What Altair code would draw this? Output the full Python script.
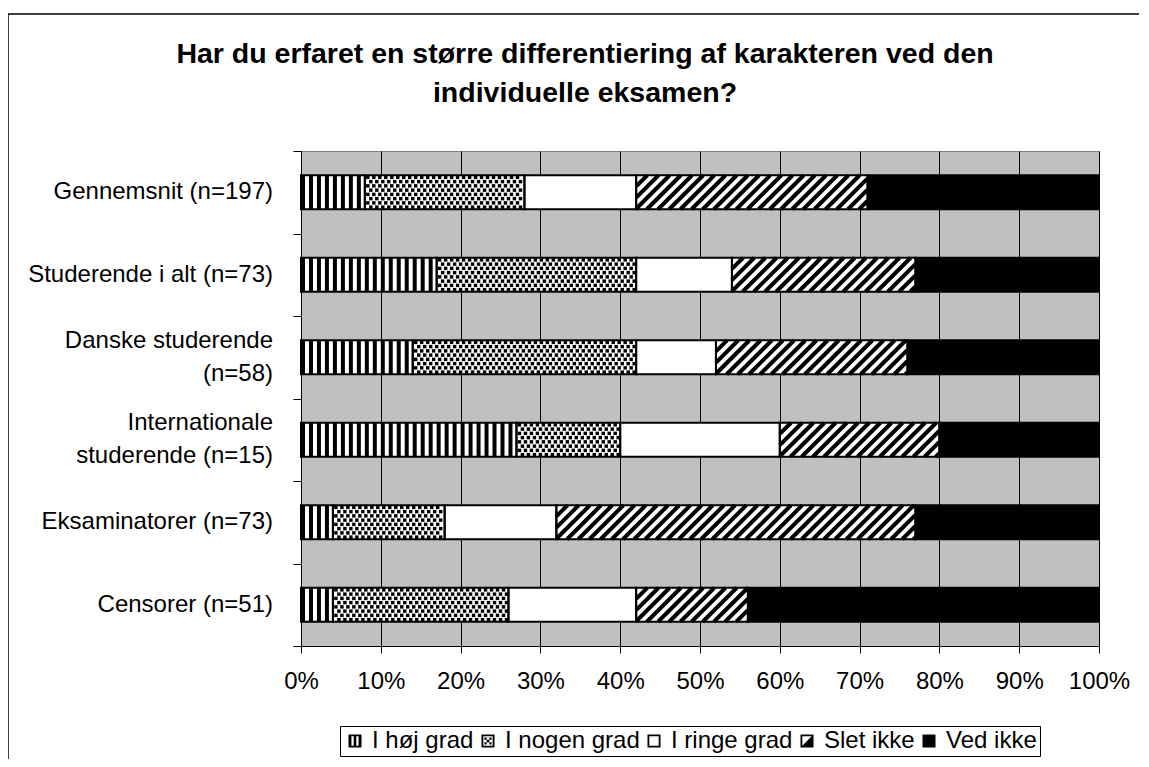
import altair as alt
import pandas as pd

# ---------------- data ----------------
categories = [
    "Gennemsnit (n=197)",
    "Studerende i alt (n=73)",
    "Danske studerende\n(n=58)",
    "Internationale\nstuderende (n=15)",
    "Eksaminatorer (n=73)",
    "Censorer (n=51)",
]
series = ["I høj grad", "I nogen grad", "I ringe grad", "Slet ikke", "Ved ikke"]
hoej_grad = [8, 17, 14, 27, 4, 4]
nogen_grad = [20, 25, 28, 13, 14, 22]
ringe_grad = [14, 12, 10, 20, 14, 16]
slet_ikke = [29, 23, 24, 20, 45, 14]
ved_ikke = [29, 23, 24, 20, 23, 44]
x_ticks = [0, 10, 20, 30, 40, 50, 60, 70, 80, 90, 100]
title_text = "Har du erfaret en større differentiering af karakteren ved den\nindividuelle eksamen?"

# ---------------- layout / style constants ----------------
W, H = 798, 495
PX_PCT = W / 100.0
PX_UNIT = H / len(categories)
BAR_HALF = 17 / PX_UNIT
FONT = "Liberation Sans"
FS = 24
LABEL_LH = 33

# ---------------- derived tables ----------------
cols = [hoej_grad, nogen_grad, ringe_grad, slet_ikke, ved_ikke]
rows = []
for i, cat in enumerate(categories):
    start = 0.0
    for s, col in zip(series, cols):
        v = col[i]
        rows.append(dict(cat=cat, series=s, start=start, end=start + v,
                         mid=start + v / 2, yc=i + 0.5,
                         y0=i + 0.5 - BAR_HALF, y1=i + 0.5 + BAR_HALF,
                         base="black" if s == "Ved ikke" else "white"))
        start += v
seg = pd.DataFrame(rows)

# vertical stripes (I høj grad)
vs = []
for r in seg[seg.series == series[0]].itertuples():
    x = r.start + 0.25
    while x + 0.25 <= r.end + 0.05:
        vs.append(dict(x=x, y0=r.y0, y1=r.y1))
        x += 1.0
vs = pd.DataFrame(vs)

# dots (I nogen grad)
dots = []
NROWS = 8
DX = 0.75
for r in seg[seg.series == series[1]].itertuples():
    for j in range(NROWS):
        y = r.y0 + (j + 0.5) * (2 * BAR_HALF / NROWS)
        x = r.start + DX * (0.5 + 0.5 * (j % 2))
        while x < r.end - 0.2:
            dots.append(dict(x=x, y=y))
            x += DX
dots = pd.DataFrame(dots)

# diagonal stripes (Slet ikke)
diag = []
HX = 2 * BAR_HALF * PX_UNIT / PX_PCT
PER = 1.4
for r in seg[seg.series == series[3]].itertuples():
    x0 = r.start - HX
    while x0 < r.end:
        smin = max(0.0, (r.start - x0) / HX)
        smax = min(1.0, (r.end - x0) / HX)
        if smax > smin:
            diag.append(dict(xa=x0 + smin * HX, xb=x0 + smax * HX,
                             ya=r.y1 - smin * 2 * BAR_HALF,
                             yb=r.y1 - smax * 2 * BAR_HALF))
        x0 += PER
diag = pd.DataFrame(diag)

labels_df = pd.DataFrame({
    "cat": categories,
    "ylab": [i + 0.5 - (c.count("\n")) * LABEL_LH / 2 / PX_UNIT for i, c in enumerate(categories)],
})
title_df = pd.DataFrame({"t": [title_text]})
one = pd.DataFrame({"a": [0]})

# legend symbols (custom paths in [-1,1])
FRAME = "M-1,-1H1V1H-1Z M-0.72,-0.72V0.72H0.72V-0.72Z"
paths = [
    "M-1,-1H1V1H-1Z M-0.55,-0.72V0.72H-0.2V-0.72Z M0.2,-0.72V0.72H0.55V-0.72Z",
    FRAME + " M-0.55,-0.55H-0.2V-0.2H-0.55Z M0.2,-0.55H0.55V-0.2H0.2Z"
            " M-0.2,-0.2H0.2V0.2H-0.2Z M-0.55,0.2H-0.2V0.55H-0.55Z M0.2,0.2H0.55V0.55H0.2Z",
    FRAME,
    FRAME + " M0.72,-0.72L0.72,0.72L-0.72,0.72Z",
    "M-1,-1H1V1H-1Z",
]

xscale = alt.Scale(domain=[0, 100], nice=False, zero=False)
yscale = alt.Scale(domain=[0, len(categories)], reverse=True, nice=False, zero=False)
xaxis = alt.Axis(values=x_ticks, labelExpr="datum.value + '%'", title=None,
                 grid=True, gridColor="black", gridWidth=1, gridOpacity=1,
                 domainColor="black", tickColor="black", tickSize=7,
                 labelOverlap=False, labelFlush=False,
                 labelFontSize=FS, labelFont=FONT, labelColor="black", labelPadding=16)
yaxis = alt.Axis(values=list(range(len(categories) + 1)), labels=False, title=None,
                 grid=False, domainColor="black", tickColor="black", tickSize=8)


def X(f):
    return alt.X(f, type="quantitative", scale=xscale, axis=xaxis)


def Y(f):
    return alt.Y(f, type="quantitative", scale=yscale, axis=yaxis)


legend_layer = alt.Chart(seg).mark_point(filled=True, opacity=1, size=1, color="black").encode(
    x=X("mid"), y=Y("yc"),
    shape=alt.Shape("series:N", scale=alt.Scale(domain=series, range=paths),
                    legend=alt.Legend(orient="none", legendX=39, legendY=575,
                                      direction="horizontal", title=None,
                                      strokeColor="black", fillColor="white", padding=3,
                                      labelFontSize=FS, labelFont=FONT, labelColor="black",
                                      symbolSize=169, symbolStrokeWidth=0, symbolOpacity=1,
                                      labelOffset=5, columnPadding=2)),
)

base = alt.Chart(seg).mark_rect(strokeWidth=0).encode(
    x=X("start"), x2="end", y=Y("y0"), y2="y1",
    fill=alt.Fill("base:N", scale=None),
)

vstripes = alt.Chart(vs).mark_rule(strokeWidth=4, color="black", strokeCap="butt").encode(
    x=X("x"), y=Y("y0"), y2="y1"
)

dotl = alt.Chart(dots).mark_square(size=12, filled=True, opacity=1, color="black").encode(
    x=X("x"), y=Y("y")
)

diagl = alt.Chart(diag).mark_rule(strokeWidth=4, color="black", strokeCap="butt").encode(
    x=X("xa"), x2="xb", y=Y("ya"), y2="yb"
)

outline = alt.Chart(seg).mark_rect(filled=False, stroke="black", strokeWidth=2).encode(
    x=X("start"), x2="end", y=Y("y0"), y2="y1"
)

ylabels = alt.Chart(labels_df).mark_text(align="right", baseline="middle", fontSize=FS,
                                         font=FONT, color="black", lineHeight=LABEL_LH,
                                         lineBreak="\n").encode(
    x=alt.value(-28), y=Y("ylab"), text="cat:N"
)

title = alt.Chart(title_df).mark_text(align="center", baseline="alphabetic", fontSize=28.5,
                                      font=FONT, fontWeight="bold", color="black",
                                      lineHeight=39, lineBreak="\n").encode(
    x=alt.value(284), y=alt.value(-88), text="t:N"
)

border = alt.Chart(one).mark_rect(filled=False, stroke="black", strokeWidth=1.5).encode(
    x=alt.value(-293), x2=alt.value(W + 80), y=alt.value(-137), y2=alt.value(H + 200)
)

chart = alt.layer(legend_layer, base, vstripes, dotl, diagl, outline, ylabels, title, border).properties(
    width=W, height=H,
    autosize=alt.AutoSizeParams(type="none"),
    padding={"left": 293, "top": 143, "right": 40, "bottom": 113},
).configure(font=FONT).configure_view(fill="#C0C0C0", stroke="#808080", strokeWidth=1)

chart.save("out.html", embed_options={"renderer": "svg", "actions": False})
